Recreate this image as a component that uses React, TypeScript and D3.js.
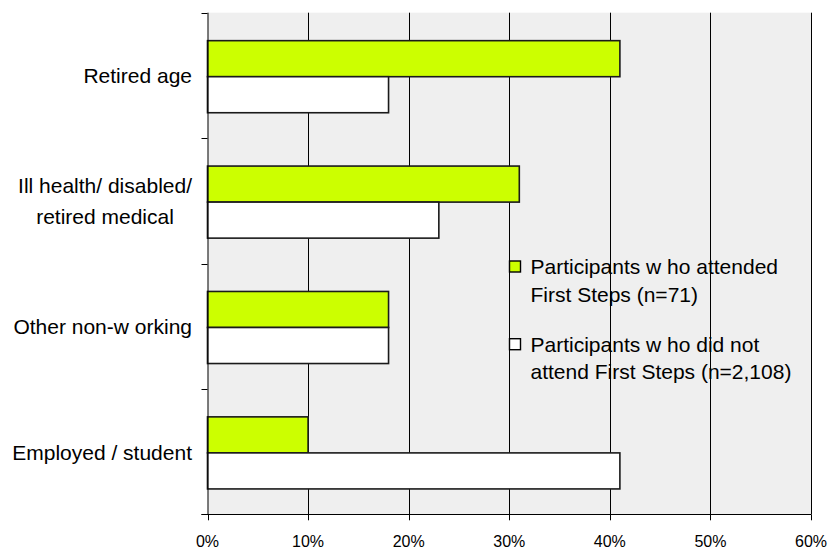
import React, { useEffect, useRef } from "react";
import * as d3 from "d3";

// Employment status of participants, share of each group (%)
const categories = [
  ["Retired age"],
  ["Ill health/ disabled/", "retired medical"],
  ["Other non-w orking"],
  ["Employed / student"],
];
const attended = [41, 31, 18, 10];
const notAttended = [18, 23, 18, 41];
const seriesNames = [
  ["Participants w ho attended", "First Steps (n=71)"],
  ["Participants w ho did not", "attend First Steps (n=2,108)"],
];
const seriesColors = ["#CCFF00", "#FFFFFF"];
const xTicks = [0, 10, 20, 30, 40, 50, 60];

const W = 830;
const H = 548;
const FONT = "'Liberation Sans', Arial, sans-serif";

export default function App() {
  const ref = useRef<SVGSVGElement | null>(null);

  useEffect(() => {
    document.body.style.margin = "0";
    const svg = d3.select(ref.current);
    svg.selectAll("*").remove();

    const left = 207.5;
    const right = 811;
    const top = 12.7;
    const bottom = 514.3;

    const x = d3.scaleLinear().domain([0, 60]).range([left, right]);
    const y = d3
      .scaleBand<number>()
      .domain(d3.range(categories.length))
      .range([top, bottom])
      .padding(0);
    const inner = d3
      .scaleBand<number>()
      .domain([0, 1])
      .range([0, y.bandwidth()])
      .paddingInner(0)
      .paddingOuter(0.74);

    // plot background
    svg
      .append("rect")
      .attr("x", left)
      .attr("y", top)
      .attr("width", right - left)
      .attr("height", bottom - top)
      .attr("fill", "#EFEFEF");

    // vertical gridlines
    svg
      .append("g")
      .selectAll("line")
      .data(xTicks.slice(1))
      .join("line")
      .attr("x1", (d) => Math.round(x(d)) + 0.5)
      .attr("x2", (d) => Math.round(x(d)) + 0.5)
      .attr("y1", top)
      .attr("y2", bottom)
      .attr("stroke", "#000")
      .attr("stroke-width", 1);

    // bars
    const series = [attended, notAttended];
    series.forEach((vals, si) => {
      svg
        .append("g")
        .selectAll("rect")
        .data(vals)
        .join("rect")
        .attr("x", x(0))
        .attr("y", (_, i) => (y(i) as number) + (inner(si) as number) + 1.3)
        .attr("width", (d) => x(d) - x(0))
        .attr("height", inner.bandwidth())
        .attr("fill", seriesColors[si])
        .attr("stroke", "#1a1a1a")
        .attr("stroke-width", 1.6);
    });

    // left axis
    const ax = svg.append("g").attr("stroke", "#000").attr("stroke-width", 1);
    ax.append("line")
      .attr("x1", left + 0.5)
      .attr("x2", left + 0.5)
      .attr("y1", top)
      .attr("y2", bottom);
    const yTickPos = d3.range(categories.length + 1).map((i) =>
      i < categories.length ? (y(i) as number) : bottom
    );
    ax.selectAll("line.yt")
      .data(yTickPos)
      .join("line")
      .attr("class", "yt")
      .attr("x1", left - 6)
      .attr("x2", left)
      .attr("y1", (d) => Math.round(d) + 0.5)
      .attr("y2", (d) => Math.round(d) + 0.5);

    // bottom axis
    ax.append("line")
      .attr("x1", left - 6)
      .attr("x2", right)
      .attr("y1", Math.round(bottom) + 0.5)
      .attr("y2", Math.round(bottom) + 0.5);
    ax.selectAll("line.xt")
      .data(xTicks)
      .join("line")
      .attr("class", "xt")
      .attr("x1", (d) => Math.round(x(d)) + 0.5)
      .attr("x2", (d) => Math.round(x(d)) + 0.5)
      .attr("y1", bottom)
      .attr("y2", bottom + 6);

    svg
      .append("g")
      .selectAll("text")
      .data(xTicks)
      .join("text")
      .attr("x", (d) => x(d))
      .attr("y", 546.5)
      .attr("text-anchor", "middle")
      .attr("font-family", FONT)
      .attr("font-size", 16)
      .attr("fill", "#000")
      .text((d) => `${d}%`);

    // category labels: block right-aligned, lines centred on each other
    const labelRight = 192;
    const lineGap = 31;
    categories.forEach((lines, i) => {
      const cy = (y(i) as number) + y.bandwidth() / 2 + 1;
      const g = svg.append("g");
      const texts = lines.map((ln) =>
        g
          .append("text")
          .attr("font-family", FONT)
          .attr("font-size", 21)
          .attr("fill", "#000")
          .text(ln)
      );
      const widths = texts.map((t) => (t.node() as SVGTextElement).getComputedTextLength());
      const maxW = d3.max(widths) as number;
      const centre = labelRight - maxW / 2;
      const y0 = cy + 7 - ((lines.length - 1) * lineGap) / 2;
      texts.forEach((t, k) => {
        t.attr("x", centre).attr("text-anchor", "middle").attr("y", y0 + k * lineGap);
      });
    });

    // legend
    const legendX = 509.5;
    const legendTextX = 530.5;
    const legendY = [274, 351.7];
    seriesNames.forEach((lines, si) => {
      const g = svg.append("g");
      g.append("rect")
        .attr("x", legendX)
        .attr("y", legendY[si] - 13)
        .attr("width", 11)
        .attr("height", 11)
        .attr("fill", seriesColors[si])
        .attr("stroke", "#000")
        .attr("stroke-width", 1.4);
      lines.forEach((ln, k) => {
        g.append("text")
          .attr("x", legendTextX)
          .attr("y", legendY[si] + k * 27.5)
          .attr("font-family", FONT)
          .attr("font-size", 21)
          .attr("fill", "#000")
          .text(ln);
      });
    });
  }, []);

  return (
    <svg
      ref={ref}
      width={W}
      height={H}
      viewBox={`0 0 ${W} ${H}`}
      style={{ display: "block", background: "#fff" }}
    />
  );
}
